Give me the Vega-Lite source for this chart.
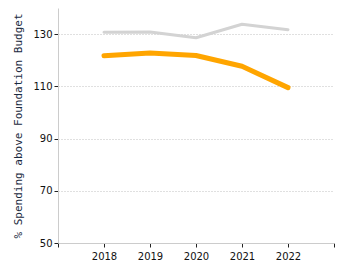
{
  "$schema": "https://vega.github.io/schema/vega-lite/v6.json",
  "autosize": "none",
  "width": 276,
  "height": 235,
  "padding": {"left": 58, "top": 8, "right": 16, "bottom": 32},
  "background": "white",
  "data": {
    "values": [
      {"year": 2018, "series": "Foundation", "pct": 130.7},
      {"year": 2019, "series": "Foundation", "pct": 130.8},
      {"year": 2020, "series": "Foundation", "pct": 128.6},
      {"year": 2021, "series": "Foundation", "pct": 133.8},
      {"year": 2022, "series": "Foundation", "pct": 131.7},
      {"year": 2018, "series": "District", "pct": 121.7},
      {"year": 2019, "series": "District", "pct": 122.8},
      {"year": 2020, "series": "District", "pct": 121.8},
      {"year": 2021, "series": "District", "pct": 117.7},
      {"year": 2022, "series": "District", "pct": 109.5}
    ]
  },
  "config": {
    "view": {"stroke": null},
    "axis": {
      "labelFont": "DejaVu Sans",
      "labelFontSize": 10,
      "labelColor": "#111",
      "domainColor": "#cccccc",
      "tickColor": "#222",
      "tickSize": 4
    }
  },
  "mark": {"type": "line", "strokeCap": "round", "strokeJoin": "round"},
  "encoding": {
    "x": {
      "field": "year",
      "type": "quantitative",
      "scale": {"domain": [2017, 2023], "nice": false, "zero": false},
      "axis": {
        "title": null,
        "grid": false,
        "values": [2017, 2018, 2019, 2020, 2021, 2022, 2023],
        "labelExpr": "datum.value == 2017 || datum.value == 2023 ? '' : format(datum.value, 'd')",
        "labelPadding": 4
      }
    },
    "y": {
      "field": "pct",
      "type": "quantitative",
      "scale": {"domain": [50, 140], "nice": false, "zero": false},
      "axis": {
        "title": "% Spending above Foundation Budget",
        "titleFont": "DejaVu Sans Mono",
        "titleFontSize": 11,
        "titleFontWeight": "normal",
        "titleColor": "#1a2a40",
        "titlePadding": 9,
        "values": [50, 70, 90, 110, 130],
        "grid": true,
        "gridColor": "#c0c0c0",
        "gridDash": [1, 2],
        "labelPadding": 2
      }
    },
    "color": {
      "field": "series",
      "type": "nominal",
      "scale": {"domain": ["Foundation", "District"], "range": ["#d3d3d3", "#ffa500"]},
      "legend": null
    },
    "strokeWidth": {
      "field": "series",
      "type": "nominal",
      "scale": {"domain": ["Foundation", "District"], "range": [3, 5]},
      "legend": null
    }
  }
}
